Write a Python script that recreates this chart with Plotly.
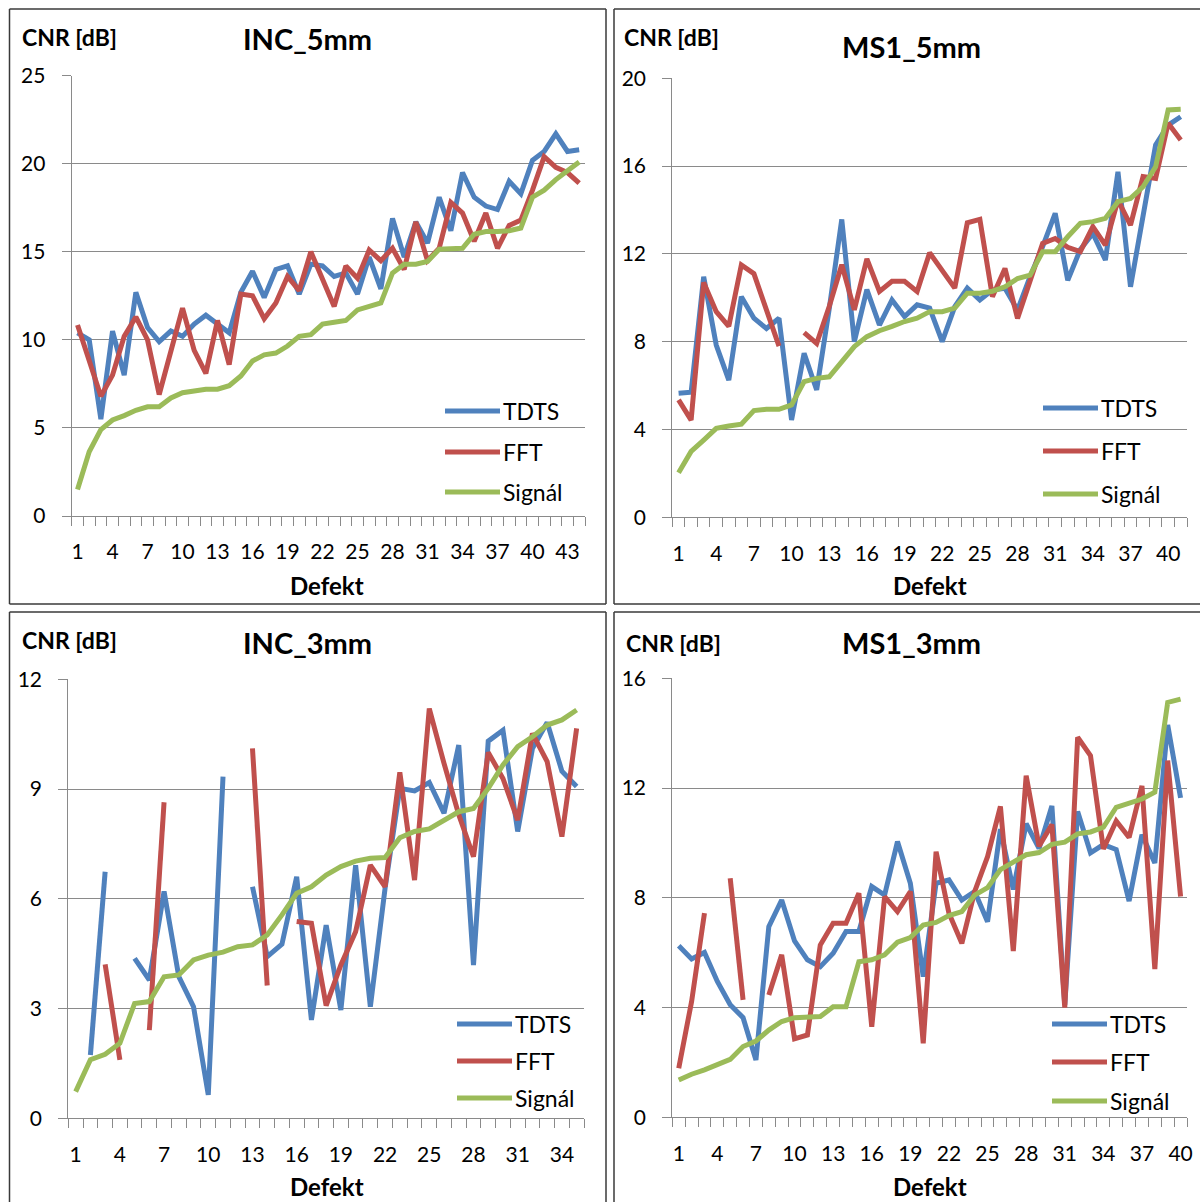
import plotly.graph_objects as go

# ---------------- data ----------------
# INC_5mm
inc5_defekt = list(range(1, 45))
inc5_tdts = [10.4, 10.0, 5.5, 10.5, 8.0, 12.7, 10.7, 9.9, 10.5, 10.2, 10.9, 11.4, 10.9, 10.4, 12.7,
             13.9, 12.4, 14.0, 14.2, 12.6, 14.3, 14.2, 13.6, 13.8, 12.6, 14.7, 12.9, 16.9, 14.7, 16.7,
             15.5, 18.1, 16.2, 19.5, 18.1, 17.6, 17.4, 19.0, 18.3, 20.2, 20.7, 21.7, 20.7, 20.8]
inc5_fft = [10.85, 8.9, 6.8, 8.0, 10.2, 11.3, 10.0, 6.9, 9.4, 11.8, 9.4, 8.1, 11.1, 8.6, 12.6,
            12.5, 11.2, 12.1, 13.6, 12.8, 15.0, 13.4, 11.9, 14.2, 13.5, 15.1, 14.5, 15.2, 14.0, 16.7,
            14.5, 15.2, 17.8, 17.2, 15.6, 17.2, 15.2, 16.5, 16.8, 18.5, 20.4, 19.8, 19.5, 18.9]
inc5_signal = [1.5, 3.65, 4.9, 5.45, 5.7, 6.0, 6.2, 6.2, 6.7, 7.0, 7.1, 7.2, 7.2, 7.4, 7.95,
               8.8, 9.15, 9.25, 9.65, 10.2, 10.3, 10.9, 11.0, 11.1, 11.7, 11.9, 12.1, 13.8, 14.3, 14.3,
               14.45, 15.15, 15.2, 15.2, 16.0, 16.15, 16.15, 16.2, 16.35, 18.1, 18.5, 19.1, 19.6, 20.1]

# MS1_5mm
ms5_defekt = list(range(1, 42))
ms5_tdts = [5.65, 5.7, 10.96, 7.85, 6.25, 10.05, 9.07, 8.6, 9.07, 4.43, 7.47, 5.8, 9.5, 13.57, 8.0,
            10.37, 8.76, 9.9, 9.15, 9.68, 9.53, 8.0, 9.6, 10.44, 9.9, 10.35, 10.43, 9.44, 10.96, 12.33,
            13.85, 10.8, 12.2, 12.93, 11.72, 15.74, 10.5, 13.7, 16.96, 17.87, 18.25]
ms5_fft = [5.35, 4.43, 10.7, 9.37, 8.7, 11.5, 11.1, 9.45, 7.8, None, 8.41, 7.92, 9.6, 11.51, 9.45,
           11.77, 10.29, 10.75, 10.75, 10.29, 12.05, 11.28, 10.44, 13.42, 13.57, 10.05, 11.34, 9.06, 10.7, 12.48,
           12.7, 12.3, 12.1, 13.24, 12.4, 14.45, 13.31, 15.52, 15.44, 17.95, 17.19]
ms5_signal = [2.03, 3.0, 3.52, 4.05, 4.16, 4.24, 4.86, 4.92, 4.92, 5.12, 6.18, 6.33, 6.4, 7.1, 7.78,
              8.23, 8.5, 8.7, 8.92, 9.07, 9.37, 9.37, 9.53, 10.21, 10.21, 10.3, 10.5, 10.88, 11.03, 12.1,
              12.1, 12.78, 13.39, 13.47, 13.62, 14.38, 14.53, 15.06, 15.97, 18.56, 18.59]

# INC_3mm
inc3_defekt = list(range(1, 36))
inc3_tdts = [None, 1.73, 6.74, None, 4.37, 3.78, 6.2, 3.87, 3.05, 0.64, 9.34, None, 6.33, 4.42, 4.76,
             6.6, 2.69, 5.28, 2.96, 6.92, 3.05, 6.29, 9.02, 8.95, 9.18, 8.34, 10.2, 4.19, 10.31, 10.61,
             7.84, 10.11, 10.82, 9.49, 9.07]
inc3_fft = [None, None, 4.21, 1.6, None, 2.41, 8.64, None, None, None, None, None, 10.11, 3.63, None,
            5.38, 5.33, 3.08, 4.19, 5.1, 6.92, 6.33, 9.46, 6.51, 11.2, 9.7, 8.3, 7.15, 10.0, 9.29,
            8.15, 10.52, 9.75, 7.7, 10.66]
inc3_signal = [0.73, 1.6, 1.75, 2.05, 3.14, 3.19, 3.87, 3.92, 4.33, 4.46, 4.54, 4.69, 4.74, 5.01, 5.56,
               6.15, 6.33, 6.65, 6.88, 7.03, 7.11, 7.13, 7.67, 7.84, 7.91, 8.15, 8.38, 8.47, 9.02, 9.66,
               10.16, 10.43, 10.75, 10.89, 11.16]

# MS1_3mm
ms3_defekt = list(range(1, 41))
ms3_tdts = [6.25, 5.77, 6.01, 4.95, 4.1, 3.63, 2.09, 6.95, 7.92, 6.43, 5.74, 5.49, 5.98, 6.77, 6.77,
            8.41, 8.1, 10.05, 8.53, 5.13, 8.53, 8.65, 7.92, 8.23, 7.13, 10.5, 8.3, 10.7, 9.8, 11.35,
            4.1, 11.15, 9.64, 9.94, 9.76, 7.88, 10.3, 9.27, 14.3, 11.64]
ms3_fft = [1.79, 4.22, 7.44, None, 8.71, 4.28, None, 4.46, 5.92, 2.86, 3.0, 6.28, 7.07, 7.07, 8.17,
           3.3, 8.04, 7.5, 8.23, 2.7, 9.68, 7.44, 6.34, 8.23, 9.5, 11.33, 6.06, 12.45, 9.88, 10.67,
           4.0, 13.85, 13.18, 9.78, 10.8, 10.2, 12.08, 5.4, 13.0, 8.05]
ms3_signal = [1.36, 1.57, 1.73, 1.93, 2.11, 2.58, 2.78, 3.18, 3.49, 3.63, 3.63, 3.67, 4.03, 4.03, 5.67,
              5.74, 5.92, 6.38, 6.55, 7.01, 7.1, 7.35, 7.5, 8.1, 8.37, 9.03, 9.3, 9.57, 9.65, 9.95,
              10.03, 10.33, 10.4, 10.57, 11.3, 11.47, 11.6, 11.85, 15.12, 15.24]

titles = ["INC_5mm", "MS1_5mm", "INC_3mm", "MS1_3mm"]
series_names = ["TDTS", "FFT", "Signál"]
y_label = "CNR [dB]"
x_label = "Defekt"

inc5_yticks = [0, 5, 10, 15, 20, 25]
ms5_yticks = [0, 4, 8, 12, 16, 20]
inc3_yticks = [0, 3, 6, 9, 12]
ms3_yticks = [0, 4, 8, 12, 16]

inc5_xticks = [1, 4, 7, 10, 13, 16, 19, 22, 25, 28, 31, 34, 37, 40, 43]
ms5_xticks = [1, 4, 7, 10, 13, 16, 19, 22, 25, 28, 31, 34, 37, 40]
inc3_xticks = [1, 4, 7, 10, 13, 16, 19, 22, 25, 28, 31, 34]
ms3_xticks = [1, 4, 7, 10, 13, 16, 19, 22, 25, 28, 31, 34, 37, 40]

# ---------------- styling / layout ----------------
W, H = 1200, 1202
COLORS = ["#4F81BD", "#C0504D", "#9BBB59"]
GRID = "#8a8a8a"
BORDER = "#3a3a3a"
FONT = "Lato"


def fx(px):
    return px / W


def fy(py):
    return 1 - py / H


panels = [
    dict(defekt=inc5_defekt, data=[inc5_tdts, inc5_fft, inc5_signal], yticks=inc5_yticks,
         xticks=inc5_xticks, plot=(71.7, 585, 75.7, 516),
         edges=[(9.5, 9, 606, 9), (9.5, 9, 9.5, 604), (606, 9, 606, 604), (9.5, 604, 606, 604)],
         ylab=(20, 37), title=(307, 39), xlab=(327, 585), leg=(445, 500, [411, 452, 492])),
    dict(defekt=ms5_defekt, data=[ms5_tdts, ms5_fft, ms5_signal], yticks=ms5_yticks,
         xticks=ms5_xticks, plot=(672.3, 1187, 78.3, 517.3),
         edges=[(614, 9, 1200, 9), (614, 9, 614, 604), (614, 604, 1200, 604)],
         ylab=(622, 37), title=(911, 47), xlab=(930, 585), leg=(1043, 1098, [408, 451, 494])),
    dict(defekt=inc3_defekt, data=[inc3_tdts, inc3_fft, inc3_signal], yticks=inc3_yticks,
         xticks=inc3_xticks, plot=(68.3, 584, 679.3, 1118.3),
         edges=[(9.5, 612, 606, 612), (9.5, 612, 9.5, 1202), (606, 612, 606, 1202)],
         ylab=(20, 640), title=(307, 642), xlab=(327, 1186), leg=(457, 512, [1024, 1061, 1098])),
    dict(defekt=ms3_defekt, data=[ms3_tdts, ms3_fft, ms3_signal], yticks=ms3_yticks,
         xticks=ms3_xticks, plot=(672.3, 1187, 678.3, 1117.3),
         edges=[(614, 612, 1200, 612), (614, 612, 614, 1202)],
         ylab=(624, 643), title=(911, 642), xlab=(930, 1186), leg=(1052, 1107, [1024, 1062, 1101])),
]

fig = go.Figure()
shapes = []
annotations = []
layout_axes = {}

for i, p in enumerate(panels):
    n = i + 1
    xa = "x" if n == 1 else f"x{n}"
    ya = "y" if n == 1 else f"y{n}"
    for s, (name, vals) in enumerate(zip(series_names, p["data"])):
        fig.add_trace(go.Scatter(
            x=p["defekt"], y=vals, mode="lines", name=name,
            line=dict(color=COLORS[s], width=5), connectgaps=False,
            xaxis=xa, yaxis=ya, showlegend=False, hoverinfo="skip"))

    x0, x1, y0, y1 = p["plot"]
    N = len(p["defekt"])
    layout_axes["xaxis" if n == 1 else f"xaxis{n}"] = dict(
        domain=[fx(x0), fx(x1)], anchor=ya, range=[0.5, N + 0.5], automargin=False,
        tickmode="array", tickvals=p["xticks"], ticktext=[str(v) for v in p["xticks"]],
        ticks="", showgrid=False, zeroline=False,
        showline=True, linecolor=GRID, linewidth=1.2,
        minor=dict(ticks="outside", tick0=0.5, dtick=1, ticklen=9, tickcolor=GRID, tickwidth=1.2,
                   showgrid=False),
        tickfont=dict(family=FONT, size=21, color="#000000"),
        ticklabelstandoff=17, fixedrange=True)
    layout_axes["yaxis" if n == 1 else f"yaxis{n}"] = dict(
        domain=[fy(y1), fy(y0)], anchor=xa, range=[0, p["yticks"][-1]], automargin=False,
        tickmode="array", tickvals=p["yticks"], ticktext=[str(v) for v in p["yticks"]],
        ticks="outside", ticklen=9, tickcolor=GRID, tickwidth=1.2,
        showgrid=True, gridcolor=GRID, gridwidth=1.2, zeroline=False,
        showline=True, linecolor=GRID, linewidth=1.2,
        tickfont=dict(family=FONT, size=21, color="#000000"),
        ticklabelstandoff=12, fixedrange=True)

    # panel border (only edges that lie inside the page)
    for (ex0, ey0, ex1, ey1) in p["edges"]:
        shapes.append(dict(type="line", xref="paper", yref="paper",
                           x0=fx(ex0), x1=fx(ex1), y0=fy(ey0), y1=fy(ey1),
                           line=dict(color=BORDER, width=1.5), layer="below"))

    # texts
    annotations.append(dict(text="<b>" + y_label + "</b>", xref="paper", yref="paper",
                            x=fx(p["ylab"][0]), y=fy(p["ylab"][1]), xanchor="left", yanchor="middle",
                            showarrow=False, font=dict(family=FONT, size=23, color="#000000")))
    annotations.append(dict(text="<b>" + titles[i] + "</b>", xref="paper", yref="paper",
                            x=fx(p["title"][0]), y=fy(p["title"][1]), xanchor="center", yanchor="middle",
                            showarrow=False, font=dict(family=FONT, size=29, color="#000000")))
    annotations.append(dict(text="<b>" + x_label + "</b>", xref="paper", yref="paper",
                            x=fx(p["xlab"][0]), y=fy(p["xlab"][1]), xanchor="center", yanchor="middle",
                            showarrow=False, font=dict(family=FONT, size=24, color="#000000")))

    # legend
    lx0, lx1, lys = p["leg"]
    for s, name in enumerate(series_names):
        shapes.append(dict(type="line", xref="paper", yref="paper",
                           x0=fx(lx0), x1=fx(lx1), y0=fy(lys[s]), y1=fy(lys[s]),
                           line=dict(color=COLORS[s], width=5)))
        annotations.append(dict(text=name, xref="paper", yref="paper",
                                x=fx(lx1 + 1), y=fy(lys[s]), xanchor="left", yanchor="middle",
                                showarrow=False, font=dict(family=FONT, size=23, color="#000000")))

fig.update_layout(
    width=W, height=H, margin=dict(l=0, r=0, t=0, b=0, pad=0, autoexpand=False),
    paper_bgcolor="white", plot_bgcolor="white",
    shapes=shapes, annotations=annotations, showlegend=False,
    **layout_axes)

fig.write_html("out.html")
